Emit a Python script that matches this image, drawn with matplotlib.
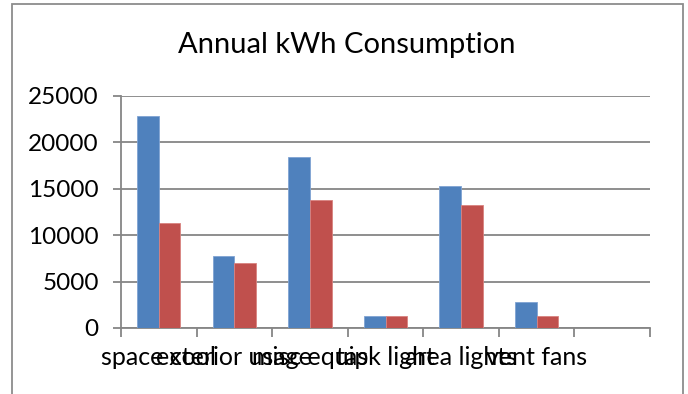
import matplotlib
matplotlib.use("Agg")
import matplotlib.pyplot as plt
import numpy as np
from matplotlib.patches import Rectangle

# annual energy use per end use, two cases
categories = ["space cool", "exterior usage", "misc equip", "task light", "area lights", "vent fans"]
baseline_kwh = [22850, 7800, 18400, 1270, 15250, 2850]
proposed_kwh = [11300, 7050, 13750, 1270, 13250, 1270]
n_slots = 7  # chart range has one empty category at the end

blue = "#4F81BD"
red = "#C0504D"
grid_gray = "#868686"

plt.rcParams['font.family'] = ['Lato', 'DejaVu Sans']

fig = plt.figure(figsize=(6.88, 3.94), dpi=100)
ax = fig.add_axes([121 / 688, 1 - 328 / 394, 529 / 688, 232 / 394])

w = 1 / 3.5
x = np.arange(len(categories))
ax.bar(x - w / 2, baseline_kwh, width=w, color=blue, edgecolor="#7fa3d3", linewidth=0.6, zorder=3)
ax.bar(x + w / 2, proposed_kwh, width=w, color=red, edgecolor="#d9827f", linewidth=0.6, zorder=3)

ax.set_xlim(-0.5, n_slots - 0.5)
ax.set_ylim(0, 25000)
ax.set_yticks(np.arange(0, 25001, 5000))
ax.yaxis.grid(True, color=grid_gray, linewidth=1.3, zorder=0)
ax.set_axisbelow(True)

# labels at category centres, tick marks at the boundaries
ax.set_xticks(x)
ax.set_xticklabels(categories)
ax.set_xticks(np.arange(n_slots + 1) - 0.5, minor=True)
ax.tick_params(axis="x", which="major", length=0, labelsize=18, pad=13)
ax.tick_params(axis="x", which="minor", length=6.5, width=1.3, color=grid_gray)
ax.tick_params(axis="y", length=6, width=1.3, color=grid_gray, labelsize=17.5, pad=10)

for side in ["top", "right"]:
    ax.spines[side].set_visible(False)
for side in ["left", "bottom"]:
    ax.spines[side].set_color(grid_gray)
    ax.spines[side].set_linewidth(1.3)

fig.text(347 / 688, 1 - 45 / 394, "Annual kWh Consumption", ha="center", va="center", fontsize=21)

# outer chart frame
fig.patches.append(Rectangle((12 / 688, -0.1), 671 / 688, 1.1 - 4 / 394, transform=fig.transFigure,
                             fill=False, edgecolor="#8c8c8c", linewidth=1.3))

fig.savefig("out.png", dpi=100)
